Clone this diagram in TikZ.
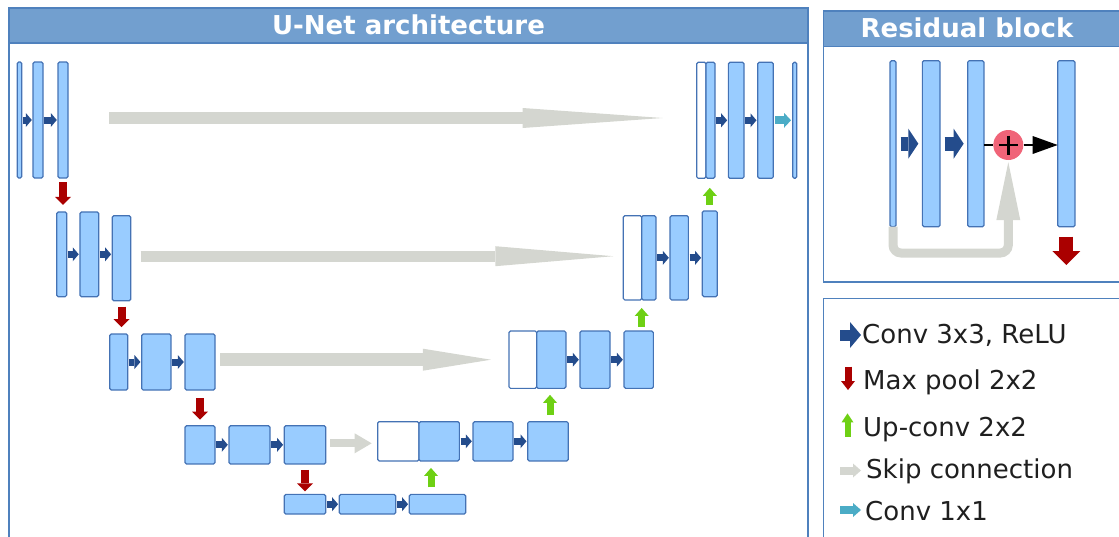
\documentclass[tikz,border=0pt]{standalone}
\usepackage{fontspec}
\setmainfont{DejaVu Sans}
\usepackage{tikz}
\usetikzlibrary{arrows.meta}

\definecolor{panelline}{RGB}{79,129,189}
\definecolor{headfill}{RGB}{114,159,207}
\definecolor{blkfill}{RGB}{153,204,255}
\definecolor{blkline}{RGB}{68,114,180}
\definecolor{convblue}{RGB}{36,76,140}
\definecolor{poolred}{RGB}{170,0,0}
\definecolor{upgreen}{RGB}{110,208,20}
\definecolor{skipgray}{RGB}{212,214,208}
\definecolor{outcyan}{RGB}{75,172,198}
\definecolor{pluspink}{RGB}{240,100,120}

\begin{document}
\begin{tikzpicture}[% one unit is one pixel, y grows downwards
           x = 1pt, y = -1pt,
  blk/.style args = {#1/#2}{draw=blkline, line width=1.2pt, fill=blkfill,
                rounded corners=1.5pt, minimum width=#1, minimum height=#2,
                inner sep=0pt, outer sep=0pt},
  catblk/.style args = {#1/#2}{blk=#1/#2, fill=white},
  panel/.style = {draw=panelline, line width=1.5pt},
  headtext/.style = {text=white, font=\bfseries\fontsize{26}{30}\selectfont,
                inner sep=0pt, anchor=base},
  legtext/.style = {font=\fontsize{26}{30}\selectfont, text=black!88,
                inner sep=0pt, anchor=base west},
  conv/.style = {draw=convblue, line width=7pt,
                -{Triangle[length=6pt, width=14pt, line width=0pt]},
                shorten <=1.2pt, shorten >=1.2pt},
  pool/.style = {draw=poolred, line width=8pt,
                -{Triangle[length=8pt, width=16pt, line width=0pt]}},
  upconv/.style = {draw=upgreen, line width=7pt,
                -{Triangle[length=8pt, width=14pt, line width=0pt]}},
  outconv/.style = {draw=outcyan, line width=8pt,
                -{Triangle[length=7pt, width=15pt, line width=0pt]}},
  skipline/.style args = {#1/#2/#3}{draw=skipgray, line width=#1,
                -{Triangle[length=#2, width=#3, line width=0pt]}}
                        ]
  \useasboundingbox (0,0) rectangle (1119,536);
  \clip (0,0) rectangle (1119,536);

  % panels
  \draw[panel] (9,8) rectangle (808,545);
  \draw[panel, fill=headfill] (9,8) rectangle (808,43);
  \node[headtext] (unettitle) at (408.5,34.5) {U-Net architecture};
  \draw[panel] (823.5,11) rectangle (1130,282);
  \draw[panel, fill=headfill] (823.5,11) rectangle (1130,46.7);
  \node[headtext] (restitle) at (967,37.5) {Residual block};
  \draw[panel] (823.5,298.3) rectangle (1130,545);

  % contracting path
  \node[blk=4.4/116]   (a1) at (19.5,120) {};
  \node[blk=10/116]    (a2) at (38,120) {};
  \node[blk=10/116]    (a3) at (63,120) {};
  \node[blk=10/84.7]   (b1) at (61.7,254.3) {};
  \node[blk=18.7/84.7] (b2) at (89.3,254.3) {};
  \node[blk=18.4/85]   (b3) at (121.5,258.2) {};
  \node[blk=18/56]     (c1) at (118.7,362) {};
  \node[blk=29.3/56]   (c2) at (156.3,362) {};
  \node[blk=30/56]     (c3) at (200,362) {};
  \node[blk=30/38.3]   (d1) at (200,444.8) {};
  \node[blk=41/38.3]   (d2) at (249.5,444.8) {};
  \node[blk=41.4/38.3] (d3) at (305,444.8) {};
  \node[blk=41.4/19.7] (e1) at (305,504.2) {};
  \node[blk=56.4/19.7] (e2) at (367.5,504.2) {};
  \node[blk=56.4/19.7] (e3) at (437.5,504.2) {};

  % expanding path
  \node[catblk=41.3/39.3] (fa) at (398.3,441.3) {};
  \node[blk=40.3/39.3]    (fb) at (439.2,441.3) {};
  \node[blk=40/39.3]      (f2) at (493,441.3) {};
  \node[blk=40.6/39.3]    (f3) at (548,441.3) {};
  \node[catblk=27.7/57.3] (ga) at (522.8,359.7) {};
  \node[blk=29.3/57.3]    (gb) at (551.3,359.7) {};
  \node[blk=30/57.3]      (g2) at (595,359.7) {};
  \node[blk=29.3/57.3]    (g3) at (638.7,359.7) {};
  \node[catblk=18.4/84.3] (ha) at (632.5,257.8) {};
  \node[blk=14.3/84.3]    (hb) at (648.8,257.8) {};
  \node[blk=18.3/84.3]    (h2) at (679.2,257.8) {};
  \node[blk=15/85.7]      (h3) at (709.8,253.8) {};
  \node[catblk=9.3/116]   (ia) at (701.3,120.3) {};
  \node[blk=9/116]        (ib) at (710.5,120.3) {};
  \node[blk=15.7/116]     (i2) at (736.2,120.3) {};
  \node[blk=15.6/116]     (i3) at (765.5,120.3) {};
  \node[blk=4/116]        (i4) at (794.7,120.3) {};

  % conv 3x3 arrows
  \foreach \p/\q in {a1/a2, a2/a3, b1/b2, b2/b3, c1/c2, c2/c3, d1/d2, d2/d3,
                     e1/e2, e2/e3, fb/f2, f2/f3, gb/g2, g2/g3, hb/h2, h2/h3,
                     ib/i2, i2/i3}
    \draw[conv] (\p.east) -- (\p.east -| \q.west);
  \draw[outconv, shorten <=1.7pt, shorten >=1.7pt] (i3.east) -- (i3.east -| i4.west);

  % skip connections
  \draw[skipline={12pt/140pt/20pt}, shorten <=41pt, shorten >=34pt]
       ([yshift=2pt]a3.east) -- ([yshift=2pt]a3.east -| ia.west);
  \draw[skipline={11pt/118pt/20pt}, shorten <=10pt, shorten >=10pt]
       ([yshift=2pt]b3.east) -- ([yshift=2pt]b3.east -| ha.west);
  \draw[skipline={13pt/68pt/22pt}, shorten <=5pt, shorten >=18pt]
       (ga.west -| c3.east) -- (ga.west);
  \draw[skipline={8pt/17pt/20pt}, shorten <=4.3pt, shorten >=6pt]
       ([yshift=-2pt]fa.west -| d3.east) -- ([yshift=-2pt]fa.west);

  % max pool
  \draw[pool, shorten <=4pt, shorten >=7pt] (a3.south) -- (a3.south |- b1.north);
  \draw[pool, shorten <=6pt, shorten >=7pt] (b3.south) -- (b3.south |- c1.north);
  \draw[pool, shorten <=8pt, shorten >=6pt] (c3.south) -- (c3.south |- d1.north);
  \draw[pool, shorten <=6pt, shorten >=3pt] (d3.south) -- (d3.south |- e1.north);

  % up-conv
  \draw[upconv, shorten <=7pt, shorten >=7pt]
       ([xshift=-6.5pt]e3.north) -- ([xshift=-6.5pt]e3.north |- fb.south);
  \draw[upconv, shorten <=6.5pt, shorten >=6.5pt]
       ([xshift=2pt]f3.north) -- ([xshift=2pt]f3.north |- gb.south);
  \draw[upconv, shorten <=4.5pt, shorten >=8pt]
       ([xshift=3pt]g3.north) -- ([xshift=3pt]g3.north |- hb.south);
  \draw[upconv, shorten <=6pt, shorten >=9.5pt] (h3.north) -- (h3.north |- ib.south);

  % residual block
  \node[blk=6/166]    (r1) at (893,143.7) {};
  \node[blk=17.7/166] (r2) at (931.2,143.7) {};
  \node[blk=16.3/166] (r3) at (975.8,143.7) {};
  \node[blk=17.3/166] (r4) at (1066.3,143.7) {};
  \node[circle, fill=pluspink, minimum size=30pt, inner sep=0pt] (plus) at (1008.3,145) {};
  \draw[line width=2.5pt] (plus.center) +(-9.5,0) -- +(9.5,0) +(0,-9.5) -- +(0,9.5);
  \coordinate (rb) at (1008.3,253);
  \draw[conv, line width=14pt, -{Triangle[length=10pt, width=30pt, line width=0pt]},
        shorten <=4.5pt, shorten >=4pt] (r1.east) -- (r1.east -| r2.west);
  \draw[conv, line width=14pt, -{Triangle[length=10pt, width=30pt, line width=0pt]},
        shorten <=4.5pt, shorten >=4pt] (r2.east) -- (r2.east -| r3.west);
  \draw[line width=1.2pt] (plus.west -| r3.east) -- (plus.west);
  \draw[line width=1.2pt, -{Triangle[length=25pt, width=18pt, line width=0pt]}]
       (plus.east) -- (plus.east -| r4.west);
  \draw[draw=skipgray, line width=9pt, rounded corners=8pt,
        -{Triangle[length=58pt, width=24pt, line width=0pt]}, shorten >=2pt]
       (r1.south) |- (rb) -- (plus.south);
  \draw[pool, line width=14pt, -{Triangle[length=14pt, width=28pt, line width=0pt]},
        shorten <=10pt] (r4.south) -- ++(0,38.3);

  % legend
  \node[legtext] (l1) at (862,343)   {Conv 3x3, ReLU};
  \node[legtext] (l2) at (863,389)   {Max pool 2x2};
  \node[legtext] (l3) at (863,436)   {Up-conv 2x2};
  \node[legtext] (l4) at (866,478.3) {Skip connection};
  \node[legtext] (l5) at (865,520)   {Conv 1x1};
  \coordinate (k1) at (840,335);
  \coordinate (k2) at (848,366.7);
  \coordinate (k3) at (847.5,436.7);
  \coordinate (k4) at (840,470.5);
  \coordinate (k5) at (840,510);
  \draw[conv, line width=11pt, -{Triangle[length=11pt, width=26pt, line width=0pt]},
        shorten <=0pt, shorten >=0pt] (k1) -- ++(21,0);
  \draw[pool, line width=7pt, -{Triangle[length=9pt, width=14pt, line width=0pt]}]
       (k2) -- ++(0,23.3);
  \draw[upconv, line width=6pt, -{Triangle[length=9pt, width=12pt, line width=0pt]}]
       (k3) -- ++(0,-23.3);
  \draw[skipline={8pt/8pt/14pt}] (k4) -- ++(21,0);
  \draw[outconv, -{Triangle[length=8pt, width=14pt, line width=0pt]}] (k5) -- ++(21,0);
\end{tikzpicture}
\end{document}
